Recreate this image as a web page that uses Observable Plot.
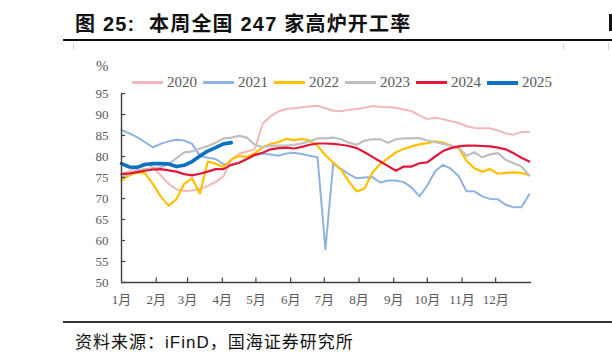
<!DOCTYPE html>
<html><head><meta charset="utf-8">
<script src="https://cdn.jsdelivr.net/npm/d3@7"></script>
<script src="https://cdn.jsdelivr.net/npm/@observablehq/plot@0.6"></script>
<style>
body{margin:0;background:#fff;}
#wrap{position:relative;width:612px;height:361px;overflow:hidden;background:#fff;}
#title{position:absolute;left:75px;top:8px;font:bold 20px "Liberation Sans","Noto Sans CJK SC",sans-serif;color:#111;white-space:nowrap;letter-spacing:1.2px;}
#edge{position:absolute;left:609px;top:14px;width:3px;height:17px;background:#111;}
.hline{position:absolute;left:63px;width:560px;height:2px;background:#111;}
.vline{position:absolute;width:1px;background:#d6d6d6;top:43px;height:274px;}
#source{position:absolute;left:75px;top:328px;font:17px "Liberation Sans","Noto Sans CJK SC",sans-serif;color:#111;white-space:nowrap;letter-spacing:1px;}
#legend{position:absolute;top:74px;left:132px;display:flex;align-items:center;font:15px "Liberation Serif",serif;color:#595959;}
.item{display:flex;align-items:center;margin-right:6px;}
.sw{width:31px;margin-right:4px;}
#unit{position:absolute;left:96px;top:58px;font:15px "Liberation Serif",serif;color:#595959;}
#chart{position:absolute;left:0;top:50px;}
</style></head>
<body><div id="wrap">
<div id="title">图 25:&nbsp; 本周全国 247 家高炉开工率</div>
<div id="edge"></div>
<div class="hline" style="top:39px"></div>
<div class="vline" style="left:73px"></div>
<div class="vline" style="left:563px"></div>
<div class="vline" style="left:608px"></div>
<div id="chart"></div>
<div id="unit">%</div>
<div id="legend"></div>
<div class="hline" style="top:321px;height:1.5px;background:#333"></div>
<div id="source">资料来源：iFinD，国海证券研究所</div>
</div>
<script>
const months = ["1月","2月","3月","4月","5月","6月","7月","8月","9月","10月","11月","12月"];
const monthStart = [0,31,59,90,120,151,181,212,243,273,304,334];
const yTicks = [50,55,60,65,70,75,80,85,90,95];
const years = ["2020","2021","2022","2023","2024","2025"];
const colors = ["#F2B8B8","#8FB3E0","#FFC000","#BFBFBF","#E3173A","#0A70C0"];
const widths = [2,2,2.2,2.2,2.2,3.6];

const v2020 = [75.8,76.5,77.5,78.4,77.5,75.5,73.5,72.2,71.8,71.9,72.3,73.0,73.9,75.3,79.1,80.7,81.2,81.7,87.8,89.6,90.7,91.3,91.5,91.7,91.9,92.1,91.5,90.9,90.8,91.1,91.3,91.6,92.0,91.8,91.7,91.6,91.2,90.8,89.8,88.9,89.2,88.9,88.4,88.0,87.2,86.8,86.7,86.7,86.2,85.5,85.2,85.8,85.9];
const v2021 = [86.3,85.5,84.6,83.4,82.2,83.0,83.6,84.0,83.8,83.0,80.2,79.7,79.4,78.2,77.9,78.5,79.4,80.3,80.7,80.5,80.2,80.7,80.9,80.6,80.2,79.8,57.9,78.3,77.0,75.8,74.8,75.0,75.1,73.8,74.3,74.3,73.9,72.6,70.5,73.1,76.5,78.0,77.1,75.3,71.7,71.7,70.5,69.9,69.8,68.5,67.9,67.9,71.0];
const v2022 = [74.3,75.5,76.2,76.0,73.5,70.5,68.3,69.8,73.5,74.8,71.2,78.8,78.3,77.5,79.3,80.1,79.9,80.8,82.2,83.0,83.4,84.2,83.9,84.2,83.8,82.6,80.3,78.6,76.9,74.0,71.7,72.4,76.2,78.2,79.6,81.0,81.8,82.4,82.9,83.2,83.6,83.3,82.6,82.0,79.0,77.2,76.4,77.0,75.9,76.1,76.2,76.1,75.5];
const v2023 = [75.0,75.8,76.7,77.0,77.2,77.4,78.2,79.6,81.0,81.2,81.9,82.5,83.3,84.3,84.5,84.9,84.5,82.8,82.2,82.6,82.6,82.6,82.8,83.1,83.6,84.3,84.3,84.5,84.1,83.3,82.8,83.8,84.1,84.1,83.3,84.1,84.3,84.3,84.4,83.8,83.4,83.0,82.6,82.1,80.2,81.0,79.8,80.5,80.8,79.2,78.4,77.6,75.5];
const v2024 = [75.8,76.0,76.3,76.6,76.9,77.0,76.7,76.4,75.8,75.5,75.9,76.4,77.0,77.0,78.0,78.5,79.4,80.4,80.9,81.7,82.0,82.1,81.9,82.3,82.8,83.1,83.1,83.0,82.8,82.5,82.0,81.0,79.9,78.8,77.7,76.6,77.6,77.6,78.4,78.6,80.0,81.3,82.0,82.4,82.6,82.6,82.5,82.4,82.1,81.7,80.8,79.7,78.8];
const v2025 = [78.3,77.5,77.4,78.1,78.3,78.3,78.2,77.6,77.9,78.8,80.1,81.3,82.1,83.0,83.3];
const series = [v2020,v2021,v2022,v2023,v2024,v2025];

const data = [];
series.forEach((vals, s) => vals.forEach((v, i) => data.push({year: years[s], day: i * 7, value: v})));

const lineMarks = years.map((y, s) => Plot.line(data.filter(d => d.year === y), {
  x: "day", y: "value", stroke: colors[s], strokeWidth: widths[s], strokeLinejoin: "round", strokeLinecap: "round"
}));

const chart = Plot.plot({
  width: 612, height: 270,
  marginLeft: 121, marginRight: 81, marginTop: 43, marginBottom: 38,
  style: {fontFamily: "'Liberation Serif', 'Noto Sans CJK SC', serif", fontSize: "13px", color: "#595959", background: "#fff"},
  x: {domain: [0, 366]},
  y: {domain: [50, 95]},
  marks: [
    ...lineMarks,
    Plot.ruleY(yTicks, {y: d => d, x1: 0, x2: 3.6, stroke: "#404040", strokeWidth: 1.2}),
    Plot.ruleX(monthStart.slice(1), {x: d => d, y1: 50, y2: 51.1, stroke: "#404040", strokeWidth: 1.2}),
    Plot.ruleX([0], {y1: 50, y2: 95, stroke: "#404040", strokeWidth: 1.4}),
    Plot.ruleY([50], {x1: 0, x2: 366, stroke: "#404040", strokeWidth: 1.4}),
    Plot.axisY({ticks: yTicks, tickSize: 0, tickPadding: 13, fill: "#595959", label: null}),
    Plot.axisX({ticks: monthStart, tickSize: 0, tickPadding: 12, tickFormat: (d) => months[monthStart.indexOf(d)], fill: "#595959", label: null})
  ]
});
document.getElementById("chart").appendChild(chart);

const legend = document.getElementById("legend");
years.forEach((y, s) => {
  const it = document.createElement("div"); it.className = "item";
  const sw = document.createElement("div"); sw.className = "sw";
  sw.style.height = (s === 5 ? 4 : 2.5) + "px"; sw.style.background = colors[s];
  const tx = document.createElement("span"); tx.textContent = y;
  it.appendChild(sw); it.appendChild(tx); legend.appendChild(it);
});
</script>
</body></html>
